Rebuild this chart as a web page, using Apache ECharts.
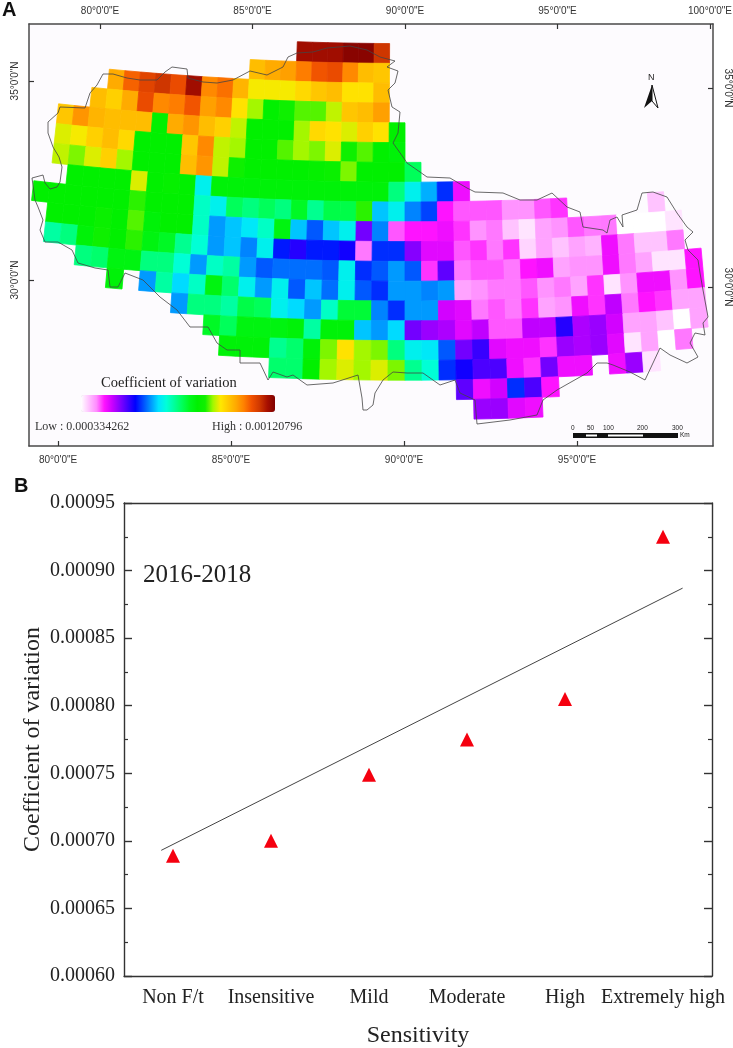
<!DOCTYPE html>
<html>
<head>
<meta charset="utf-8">
<style>
  html, body { margin: 0; padding: 0; background: #fff; }
  #chartsId { width: 733px; height: 1048px; }
</style>
<script src="https://cdn.jsdelivr.net/npm/echarts@6/dist/echarts.min.js"></script>
</head>
<body>
<div id="chartsId"></div>
<script>
// panel A: coefficient of variation (x 1e-5) on a 0.5 degree grid, one list per latitude band
const rowLats = [36.25, 35.75, 35.25, 34.75, 34.25, 33.75, 33.25, 32.75, 32.25, 31.75, 31.25, 30.75, 30.25, 29.75, 29.25, 28.75, 28.25, 27.75, 27.25];
const rowLonStart = [86.5, 85, 80.5, 80, 79, 79, 79, 79.5, 78.5, 79, 79, 80, 81, 83, 84, 84.5, 86, 91.5, 92];
const r0 = [118, 118, 118, 120, 120, 114];
const r1 = [101, 103, 104, 107, 110, 111, 106, 101, 100];
const r2 = [103, 109, 112, 114, 111, 118, 106, 108, 102, 96, 96, 96, 98, 100, 101, 97, 97, 101];
const r3 = [101, 99, 103, 111, 106, 107, 110, 104, 106, 97, 93, 86, 89, 91, 91, 94, 100, 101, 104];
const r4 = [100, 105, 102, 101, 101, 101, 86, 103, 105, 101, 99, 94, 86, 86, 86, 93, 98, 97, 95, 99, 97, 86];
const r5 = [95, 96, 99, 101, 98, 86, 86, 86, 100, 106, 94, 93, 86, 86, 91, 93, 92, 95, 89, 91, 86, 85];
const r6 = [94, 92, 95, 99, 93, 86, 86, 86, 101, 105, 94, 89, 86, 86, 86, 86, 87, 88, 92, 86, 86, 86, 79];
const r7 = [86, 86, 86, 86, 95, 86, 87, 86, 70, 85, 85, 85, 85, 85, 85, 85, 85, 85, 85, 85, 77, 70, 66, 60, 45];
const r8 = [86, 86, 86, 86, 86, 86, 90, 86, 86, 86, 73, 70, 79, 77, 79, 77, 82, 76, 80, 80, 90, 67, 70, 64, 61, 44, 42, 42, 42, 40, 40, 42, 43, null, null, null, null, null, 37];
const r9 = [86, 86, 86, 88, 86, 91, 85, 86, 86, 73, 65, 67, 69, 73, 84, 67, 62, 67, 70, 52, 64, 42, 44, 44, 45, 43, 40, 41, 37, 35, 39, 40, 42, 41, 41, 33, 33, 33, 35];
const r10 = [75, 77, 85, 89, 86, 90, 84, 82, 76, 72, 65, 67, 64, 70, 59, 56, 59, 59, 57, 41, 60, 60, 51, 46, 46, 42, 43, 41, 43, 36, 39, 37, 39, 38, 45, 41, 37, 37, 41];
const r11 = [77, 78, 84, 84, 77, 77, 72, 65, 73, 75, 65, 62, 63, 63, 63, 62, 70, 60, 62, 65, 62, 43, 53, 41, 42, 42, 41, 44, 45, 39, 40, 40, 45, 41, 39, 35, 35, 44];
const r12 = [85, null, 65, 75, 68, 73, 84, 78, 70, 65, 70, 62, 67, 63, 70, 62, 60, 65, 65, 64, 65, 39, 40, 41, 41, 42, 40, 41, 39, 43, 35, 40, 45, 45, 40, 44];
const r13 = [65, 77, 77, 75, 80, 79, 70, 68, 65, 73, 81, 81, 64, 60, 65, 65, 47, 46, 41, 42, 41, 43, 39, 40, 45, 43, 48, 41, 44, 43, 39, 39];
const r14 = [82, 79, 84, 84, 84, 85, 75, 85, 85, 67, 65, 68, 52, 50, 49, 46, 48, 42, 42, 48, 48, 56, 49, 50, 47, 39, 39, 37, 33, 39];
const r15 = [85, 85, 85, 76, 78, 85, 92, 97, 93, 92, 77, 70, 69, 62, 52, 55, 46, 45, 45, 43, 50, 49, 50, 46, 35, 39, 33, 41];
const r16 = [78, 78, 86, 93, 95, 93, 95, 92, 76, 72, 60, 57, 54, 54, 45, 43, 52, 45, 45, null, 45, 50, 35];
const r17 = [53, 45, 47, 60, 54, 44];
const r18 = [50, 50, 46, 45];
const cvRows = [r0, r1, r2, r3, r4, r5, r6, r7, r8, r9, r10, r11, r12, r13, r14, r15, r16, r17, r18];

const cvLow = 33.4262;
const cvHigh = 120.796;
const rampColors = ["#ffffff", "#ffc4ff", "#ff8cff", "#ff14ff", "#cc00ff", "#8800ff", "#4400ff", "#0000ff", "#004bff", "#0097ff", "#00e3ff", "#00ffd8", "#00ff9c", "#00ff5c", "#00f81f", "#00f000", "#10f000", "#a0f800", "#ffe800", "#ffc800", "#ffa800", "#ff8000", "#f05000", "#d03800", "#a81000", "#800000"];

// outline of the region in map units
const boundaryX = [32, 43, 45, 50, 57, 60, 62, 59, 53, 48, 48, 58, 60, 85, 90, 97, 103, 113, 127, 140, 157, 165, 172, 187, 188, 203, 217, 233, 250, 267, 283, 288, 297, 313, 327, 350, 367, 380, 395, 387, 398, 395, 388, 392, 400, 398, 393, 403, 407, 420, 427, 450, 467, 475, 503, 520, 537, 552, 567, 580, 583, 603, 607, 610, 617, 623, 622, 637, 642, 653, 667, 677, 687, 693, 685, 688, 698, 700, 703, 708, 703, 705, 695, 690, 698, 687, 670, 660, 653, 645, 630, 613, 607, 597, 587, 557, 543, 537, 510, 477, 475, 460, 455, 440, 423, 407, 393, 383, 375, 373, 367, 363, 362, 358, 333, 307, 293, 287, 273, 268, 260, 240, 240, 227, 217, 208, 190, 177, 160, 143, 125, 118, 110, 108, 95, 78, 72, 58, 45, 40, 43, 38, 35, 32];
const boundaryY = [178, 175, 183, 189, 187, 182, 167, 157, 147, 133, 122, 113, 107, 108, 93, 85, 74, 74, 78, 80, 80, 72, 67, 69, 78, 82, 83, 80, 71, 75, 67, 57, 53, 52, 48, 46, 50, 57, 61, 67, 71, 83, 90, 107, 112, 133, 143, 157, 163, 172, 177, 178, 188, 192, 193, 200, 200, 193, 207, 212, 227, 230, 233, 220, 217, 227, 215, 210, 193, 192, 197, 213, 227, 232, 240, 250, 260, 273, 290, 317, 323, 335, 333, 343, 357, 363, 355, 348, 363, 380, 372, 365, 363, 363, 373, 390, 400, 415, 420, 424, 400, 393, 380, 385, 373, 373, 372, 380, 393, 405, 410, 410, 398, 375, 383, 385, 375, 377, 372, 380, 363, 363, 350, 350, 343, 327, 327, 310, 297, 280, 273, 287, 287, 270, 268, 263, 250, 242, 242, 230, 220, 207, 200, 178];

const topLons = [80, 85, 90, 95, 100];
const bottomLons = [80, 85, 90, 95];
const sideLats = [30, 35];

// panel B
const sensitivity = ["Non F/t", "Insensitive", "Mild", "Moderate", "High", "Extremely high"];
const cvMean = [0.000689, 0.0007, 0.000749, 0.000775, 0.000805, 0.000925];
const trendX = [-0.12, 5.2];
const trendY = [0.000693, 0.000887];

// the map is a conic projection, meridians converge towards the north
function project(lon, lat) {
  let theta = (lon - 90) * 0.00995;
  let r = 3152 + (35 - lat) * 39.6;
  return [405 + r * Math.sin(theta), -3049 + r * Math.cos(theta)];
}

let cells = [];
cvRows.forEach(function(row, i) {
  row.forEach(function(v, j) {
    if (v !== null) {
      cells.push([rowLonStart[i] + j * 0.5 + 0.25, rowLats[i], v]);
    }
  });
});

function renderCell(params, api) {
  let lon = api.value(0);
  let lat = api.value(1);
  let corners = [
    [lon - 0.25, lat + 0.25],
    [lon + 0.25, lat + 0.25],
    [lon + 0.25, lat - 0.25],
    [lon - 0.25, lat - 0.25]
  ].map(function(c) {
    return api.coord(project(c[0], c[1]));
  });
  let color = api.visual("color");
  return {
    type: "polygon",
    shape: { points: corners },
    style: { fill: color, stroke: color, lineWidth: 0.8 }
  };
}

function lonLabel(v) {
  return v + "°0'0\"E";
}
function latLabel(v) {
  return v + "°0'0\"N";
}

const frameLine = { show: true, lineStyle: { color: "#4a4a4a", width: 1.5 } };
const frameTick = { inside: true, length: 5, lineStyle: { color: "#333", width: 1.2 } };
const frameText = { fontFamily: "Liberation Sans", fontSize: 10, color: "#333" };
const serif = "Liberation Serif";
const plotLine = { show: true, onZero: false, lineStyle: { color: "#333", width: 1.4 } };
const plotTick = { inside: true, length: 8, lineStyle: { color: "#333", width: 1.4 } };

let myChart = echarts.init(document.getElementById("chartsId"));
let option = {
  animation: false,
  backgroundColor: "#fff",
  grid: [
    { left: 29, width: 684, top: 24, height: 422, backgroundColor: "#fdfbfe", show: true, borderWidth: 0, outerBoundsMode: "none" },
    { left: 29, width: 684, top: 24, height: 422, outerBoundsMode: "none" },
    { left: 124, width: 588, top: 503, height: 473, outerBoundsMode: "none" }
  ],
  xAxis: [
    { gridIndex: 0, type: "value", min: 29, max: 713, show: false },
    {
      gridIndex: 1, type: "value", position: "top", min: 77.67, max: 100.1, scale: true,
      axisLine: frameLine, splitLine: { show: false },
      axisTick: Object.assign({ customValues: topLons }, frameTick),
      axisLabel: Object.assign({ customValues: topLons, formatter: lonLabel, margin: 8 }, frameText)
    },
    {
      gridIndex: 1, type: "value", position: "bottom", min: 79.16, max: 98.93, scale: true,
      axisLine: frameLine, splitLine: { show: false },
      axisTick: Object.assign({ customValues: bottomLons }, frameTick),
      axisLabel: Object.assign({ customValues: bottomLons, formatter: lonLabel, margin: 9 }, frameText)
    },
    {
      gridIndex: 2, type: "category", position: "bottom", data: sensitivity,
      axisLine: plotLine, axisTick: Object.assign({ alignWithLabel: true }, plotTick),
      axisLabel: { fontFamily: serif, fontSize: 20, color: "#222", margin: 12, interval: 0 },
      name: "Sensitivity", nameLocation: "center", nameGap: 48, nameMoveOverlap: false,
      nameTextStyle: { fontFamily: serif, fontSize: 24, color: "#222" }
    },
    {
      gridIndex: 2, type: "category", position: "top", data: sensitivity,
      axisLine: plotLine, axisTick: Object.assign({ alignWithLabel: true }, plotTick),
      axisLabel: { show: false }
    },
    { gridIndex: 2, type: "value", min: -0.5, max: 5.5, show: false }
  ],
  yAxis: [
    { gridIndex: 0, type: "value", min: 24, max: 446, inverse: true, show: false },
    {
      gridIndex: 1, type: "value", position: "left", min: 25.83, max: 36.43, scale: true,
      axisLine: frameLine, splitLine: { show: false },
      axisTick: Object.assign({ customValues: sideLats }, frameTick),
      axisLabel: Object.assign({ customValues: sideLats, formatter: latLabel, rotate: 90, margin: 9 }, frameText)
    },
    {
      gridIndex: 1, type: "value", position: "right", min: 26.005, max: 36.61, scale: true,
      axisLine: frameLine, splitLine: { show: false },
      axisTick: Object.assign({ customValues: sideLats }, frameTick),
      axisLabel: Object.assign({ customValues: sideLats, formatter: latLabel, rotate: -90, margin: 10 }, frameText)
    },
    {
      gridIndex: 2, type: "value", position: "left", min: 0.0006, max: 0.00095, interval: 0.00005,
      axisLine: plotLine, splitLine: { show: false }, axisTick: plotTick,
      minorTick: { show: true, splitNumber: 2, length: 4, lineStyle: { color: "#333", width: 1.2 } },
      minorSplitLine: { show: false },
      axisLabel: {
        fontFamily: serif, fontSize: 20, color: "#222", margin: 9,
        formatter: function(value) {
          return value.toFixed(5);
        }
      },
      name: "Coefficient of variation", nameLocation: "center", nameGap: 79, nameMoveOverlap: false,
      nameTextStyle: { fontFamily: serif, fontSize: 24, color: "#222" }
    },
    {
      gridIndex: 2, type: "value", position: "right", min: 0.0006, max: 0.00095, interval: 0.00005,
      axisLine: plotLine, splitLine: { show: false }, axisTick: plotTick,
      minorTick: { show: true, splitNumber: 2, length: 4, lineStyle: { color: "#333", width: 1.2 } },
      axisLabel: { show: false }
    }
  ],
  visualMap: {
    type: "continuous",
    seriesIndex: 0,
    dimension: 2,
    min: cvLow,
    max: cvHigh,
    orient: "horizontal",
    left: 81,
    top: 395,
    itemWidth: 17,
    itemHeight: 194,
    calculable: false,
    hoverLink: false,
    text: ["", ""],
    padding: 0,
    inRange: { color: rampColors }
  },
  series: [
    {
      name: "cv",
      type: "custom",
      xAxisIndex: 0,
      yAxisIndex: 0,
      renderItem: renderCell,
      encode: { x: 0, y: 1 },
      clip: false,
      data: cells
    },
    {
      name: "boundary",
      type: "line",
      xAxisIndex: 0,
      yAxisIndex: 0,
      showSymbol: false,
      z: 5,
      lineStyle: { color: "#444", width: 0.8 },
      data: boundaryX.map(function(x, i) {
        return [x, boundaryY[i]];
      })
    },
    {
      name: "trend",
      type: "line",
      xAxisIndex: 5,
      yAxisIndex: 3,
      showSymbol: false,
      lineStyle: { color: "#444", width: 1 },
      data: trendX.map(function(x, i) {
        return [x, trendY[i]];
      })
    },
    {
      name: "mean",
      type: "scatter",
      xAxisIndex: 3,
      yAxisIndex: 3,
      symbol: "triangle",
      symbolSize: 14,
      itemStyle: { color: "#f5000f", opacity: 1 },
      data: cvMean
    }
  ],
  graphic: [
    { type: "text", left: 2, top: 0, style: { text: "A", fontFamily: "Liberation Sans", fontWeight: "bold", fontSize: 20, fill: "#111" } },
    { type: "text", left: 14, top: 476, style: { text: "B", fontFamily: "Liberation Sans", fontWeight: "bold", fontSize: 20, fill: "#111" } },
    { type: "text", left: 101, top: 376, style: { text: "Coefficient of variation", fontFamily: serif, fontSize: 14.5, fill: "#222" } },
    { type: "text", left: 35, top: 421, style: { text: "Low : 0.000334262", fontFamily: serif, fontSize: 12, fill: "#333" } },
    { type: "text", left: 212, top: 421, style: { text: "High : 0.00120796", fontFamily: serif, fontSize: 12, fill: "#333" } },
    { type: "text", left: 143, top: 563, style: { text: "2016-2018", fontFamily: serif, fontSize: 25, fill: "#222" } },
    // north arrow
    { type: "text", left: 648, top: 73, style: { text: "N", fontFamily: "Liberation Sans", fontSize: 9, fill: "#222" } },
    { type: "polygon", shape: { points: [[652, 85], [644, 108], [652, 101]] }, style: { fill: "#111" } },
    { type: "polygon", shape: { points: [[652, 85], [658, 108], [652, 101]] }, style: { fill: "#fff", stroke: "#111", lineWidth: 1 } },
    // scale bar
    { type: "rect", shape: { x: 573, y: 433, width: 105, height: 5 }, style: { fill: "#111" } },
    { type: "rect", shape: { x: 586, y: 434.5, width: 11, height: 2 }, style: { fill: "#fff" } },
    { type: "rect", shape: { x: 608, y: 434.5, width: 35, height: 2 }, style: { fill: "#fff" } },
    { type: "text", left: 571, top: 425, style: { text: "0", fontFamily: "Liberation Sans", fontSize: 6.5, fill: "#222" } },
    { type: "text", left: 587, top: 425, style: { text: "50", fontFamily: "Liberation Sans", fontSize: 6.5, fill: "#222" } },
    { type: "text", left: 603, top: 425, style: { text: "100", fontFamily: "Liberation Sans", fontSize: 6.5, fill: "#222" } },
    { type: "text", left: 637, top: 425, style: { text: "200", fontFamily: "Liberation Sans", fontSize: 6.5, fill: "#222" } },
    { type: "text", left: 672, top: 425, style: { text: "300", fontFamily: "Liberation Sans", fontSize: 6.5, fill: "#222" } },
    { type: "text", left: 680, top: 432, style: { text: "Km", fontFamily: "Liberation Sans", fontSize: 6.5, fill: "#222" } }
  ]
};
myChart.setOption(option);
</script>
</body>
</html>
